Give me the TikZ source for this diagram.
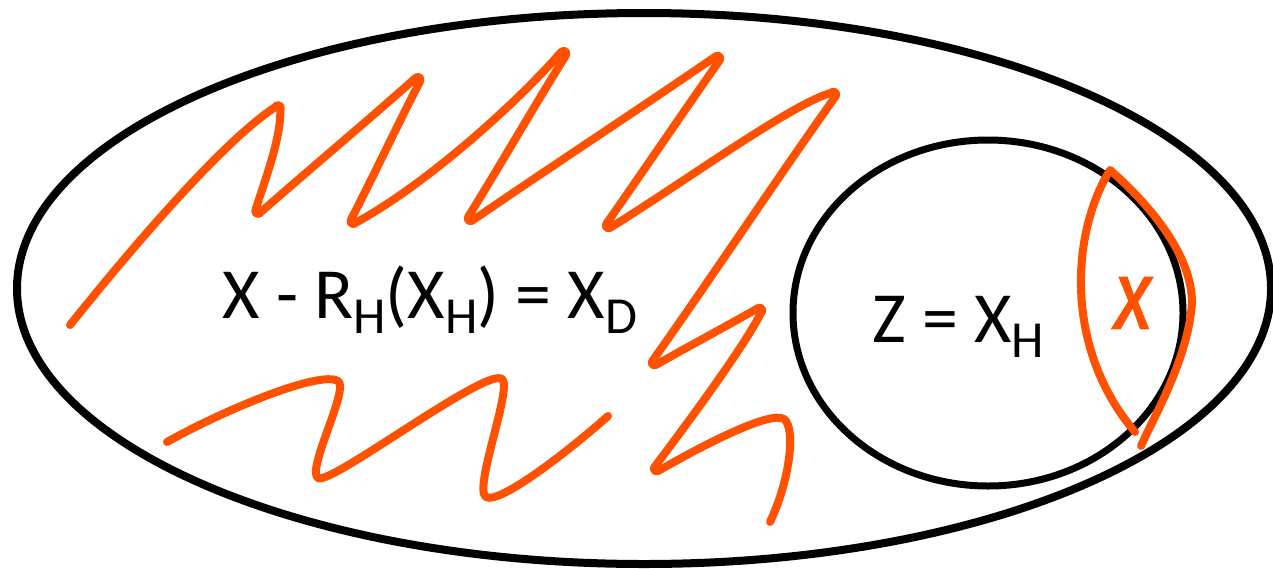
\documentclass[tikz,border=0pt]{standalone}
\usepackage{fontspec}
\setmainfont{Carlito}
\newfontfamily\handfont[FakeBold=1.6]{Fira Sans}
\definecolor{scribble}{HTML}{FF5100}
\usetikzlibrary{shapes.geometric}
\tikzset{
  region/.style={draw=black, ellipse, inner sep=0pt, outer sep=0pt, line width=4pt},
  scrawl/.style={draw=scribble, line width=4pt, line cap=round, line join=round},
  lbl/.style={font=\fontsize{36}{40}\selectfont, inner sep=0pt, anchor=base west},
}
\newcommand{\lo}[1]{\raisebox{-0.21em}{\fontsize{26}{30}\selectfont #1}}

\begin{document}
\begin{tikzpicture}[x=0.5pt, y=-0.5pt]
\useasboundingbox (0,0) rectangle (1273,568);
\node[region, minimum width=627pt, minimum height=275.5pt] (data) at (644,288.5) {};
\node[region, line width=3.5pt, minimum width=195pt, minimum height=173pt] (hidden) at (988,313) {};
\node[lbl] (resid) at (222,318) {X - R\lo{H}(X\lo{H}) = X\lo{D}};
\node[lbl] (zeq) at (872,342) {Z = X\lo{H}};
% scribbles
\draw[scrawl] (70,325) .. controls (130,250) and (222,142) .. (274.9,107.3)
  .. controls (277.2,102.9) and (282.6,105.7) .. (280.3,110.1)
  .. controls (281,140) and (263,185) .. (255.9,208.9)
  .. controls (253.3,213.2) and (258.5,216.2) .. (261.1,211.9)
  .. controls (311,168) and (365,123) .. (414.8,78.6)
  .. controls (417.8,74.6) and (422.6,78.2) .. (419.6,82.2)
  .. controls (397,126) and (374,175) .. (351.4,218.7)
  .. controls (348.3,222.6) and (353.1,226.4) .. (356.2,222.5)
  .. controls (425,185) and (515,105) .. (560.8,52.4)
  .. controls (564.0,48.6) and (568.6,52.4) .. (565.4,56.2)
  .. controls (533,108) and (501,164) .. (468.9,215.7)
  .. controls (465.5,219.3) and (469.9,223.5) .. (473.3,219.9)
  .. controls (552,166) and (636,111) .. (714.8,57)
  .. controls (718.3,53.5) and (722.5,57.7) .. (719,61.2)
  .. controls (682,114) and (644,170) .. (607.1,222.7)
  .. controls (603.5,226.1) and (607.7,230.5) .. (611.3,227.1)
  .. controls (684,182) and (790,105) .. (830.7,92.9)
  .. controls (834.3,89.5) and (838.5,93.9) .. (834.9,97.3)
  .. controls (774,183) and (714,274) .. (653.2,359.8)
  .. controls (649.5,363.1) and (653.5,367.5) .. (657.2,364.2)
  .. controls (689,346) and (725,327) .. (756.8,308.8)
  .. controls (760.5,305.5) and (764.5,309.9) .. (760.8,313.2)
  .. controls (745,345) and (690,420) .. (655.4,465.8)
  .. controls (651.6,469) and (655.4,473.6) .. (659.2,470.4)
  .. controls (698,448) and (770,410) .. (784,419)
  .. controls (796,428) and (790,480) .. (770,522);
\draw[scrawl] (167,442) .. controls (220,412) and (319,370) .. (338,381)
  .. controls (350,388) and (306,470) .. (318,478)
  .. controls (330,486) and (486,367) .. (502,379)
  .. controls (513,387) and (473,489) .. (486,497)
  .. controls (499,505) and (570,450) .. (608,416);
% lens inside the circle
\draw[scrawl] (1141,446) .. controls (1152,420) and (1188,360) .. (1192,303)
  .. controls (1192,255) and (1150,205) .. (1110,170)
  .. controls (1070,235) and (1065,350) .. (1135,432);
\node[text=scribble, font=\handfont\itshape\fontsize{44}{48}\selectfont, inner sep=0pt] (mark) at (1133,303) {\scalebox{0.88}[1.1]{x}};
\end{tikzpicture}
\end{document}
